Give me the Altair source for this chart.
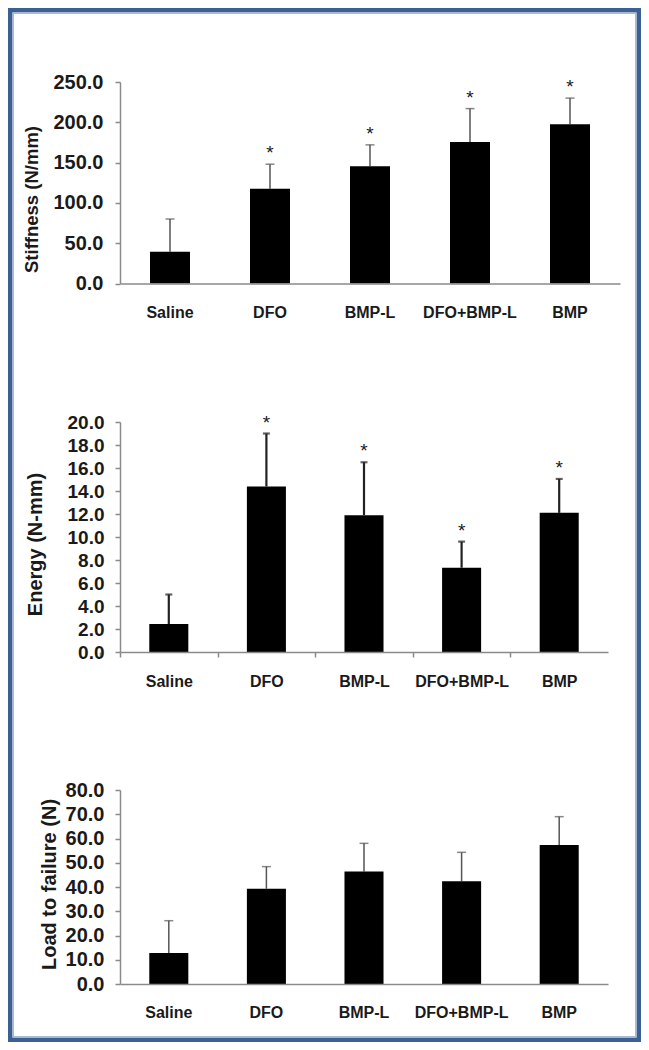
import altair as alt
import pandas as pd

groups = ["Saline", "DFO", "BMP-L", "DFO+BMP-L", "BMP"]

stiff_mean = [39.5, 117.5, 145.5, 175.5, 197.5]
stiff_sd = [40.5, 30.5, 26.5, 41.5, 32.5]
stiff_sig = [False, True, True, True, True]

energy_mean = [2.43, 14.4, 11.9, 7.33, 12.1]
energy_sd = [2.57, 4.6, 4.6, 2.27, 2.95]
energy_sig = [False, True, True, True, True]

load_mean = [12.8, 39.3, 46.4, 42.4, 57.3]
load_sd = [13.3, 9.1, 11.6, 11.9, 11.7]
load_sig = [False, False, False, False, False]

FONT = "Liberation Sans"
TXT = "#1a1a1a"
AX = "#8a8a8a"


def panel(mean, sd, sig, title, ymax, step, width, height, label_size, title_size,
          title_x, title_y, ylab_pad, x_ticks, xlab_pad, err_color, err_w, cap_size,
          border=False):
    df = pd.DataFrame({
        "group": groups,
        "mean": mean,
        "top": [m + s for m, s in zip(mean, sd)],
        "star": ["*" if s else "" for s in sig],
    })
    base = alt.Chart(df)
    half = width / len(groups) / 2
    xaxis = dict(
        labelAngle=0, labelAlign="center", labelBaseline="top",
        labelFont=FONT, labelFontSize=16, labelFontWeight="bold",
        labelColor=TXT, domainColor=AX, domainWidth=1.5, labelPadding=xlab_pad,
        zindex=1,
    )
    if x_ticks:
        xaxis.update(ticks=True, tickSize=5, tickColor=AX, tickWidth=1.5,
                     tickOffset=-half, tickExtra=True, labelOffset=half)
    else:
        xaxis.update(ticks=False, tickSize=0)
    x_axis = alt.Axis(**xaxis)
    x_scale = alt.Scale(paddingInner=0.6, paddingOuter=0.3)

    def X():
        return alt.X("group:N", sort=groups, title=None, scale=x_scale, axis=x_axis)

    y_axis = alt.Axis(
        values=list(range(0, ymax + 1, step)), format=".1f", grid=False,
        labelOverlap=False,
        labelFont=FONT, labelFontSize=label_size, labelFontWeight="bold",
        labelColor=TXT, labelPadding=ylab_pad,
        domainColor=AX, domainWidth=1.5, tickColor=AX, tickWidth=1.5, tickSize=5,
        titleFont=FONT, titleFontSize=title_size, titleFontWeight="bold",
        titleColor=TXT, titleX=title_x, titleY=title_y, titleBaseline="middle",
        titleAngle=270, zindex=1,
    )
    y_scale = alt.Scale(domain=[0, ymax], nice=False, zero=True)

    def Y(field):
        return alt.Y(field, title=title, scale=y_scale, axis=y_axis)

    bars = base.mark_bar(color="#000000").encode(x=X(), y=Y("mean:Q"))
    err = base.mark_rule(color=err_color, strokeWidth=err_w).encode(
        x=X(), y=Y("mean:Q"), y2="top:Q")
    cap = base.mark_tick(color=err_color, thickness=err_w, size=cap_size).encode(
        x=X(), y=Y("top:Q"))
    star = base.transform_filter("datum.star != ''").mark_text(
        font=FONT, fontSize=19, color=TXT, baseline="alphabetic", dy=-5
    ).encode(x=X(), y=Y("top:Q"), text="star:N")
    layers = [err, cap, bars, star]
    if border:
        # decorative frame around whole figure, in pixels of this panel
        frame = pd.DataFrame({"k": [0]})
        outer = alt.Chart(frame).mark_rect(
            filled=False, stroke="#3b6192", strokeWidth=4.5, clip=False
        ).encode(x=alt.value(-109.75), x2=alt.value(518.75),
                 y=alt.value(-71.75), y2=alt.value(957.75))
        inner = alt.Chart(frame).mark_rect(
            filled=False, stroke="#a9bcd6", strokeWidth=1.5, clip=False
        ).encode(x=alt.value(-106.75), x2=alt.value(515.75),
                 y=alt.value(-68.75), y2=alt.value(954.75))
        layers = [outer, inner] + layers
    return alt.layer(*layers).properties(width=width, height=height)


p1 = panel(stiff_mean, stiff_sd, stiff_sig, "Stiffness (N/mm)", 250, 50, 500, 201.5,
           20, 18.5, -89, 117, 12, False, 21, "#555555", 1.5, 9, border=True)
p2 = panel(energy_mean, energy_sd, energy_sig, "Energy (N-mm)", 20, 2, 488, 230,
           19, 20, -85, 122, 11, True, 16, "#222222", 2.2, 7)
p3 = panel(load_mean, load_sd, load_sig, "Load to failure (N)", 80, 10, 488, 194,
           20, 20, -71, 94, 11, False, 20, "#555555", 1.5, 9)

chart = alt.vconcat(p1, p2, p3, spacing=138, bounds="flush").properties(
    padding=0, background="#ffffff"
).configure_view(strokeWidth=0)

chart.save("out.html", embed_options={"renderer": "svg", "actions": False})
